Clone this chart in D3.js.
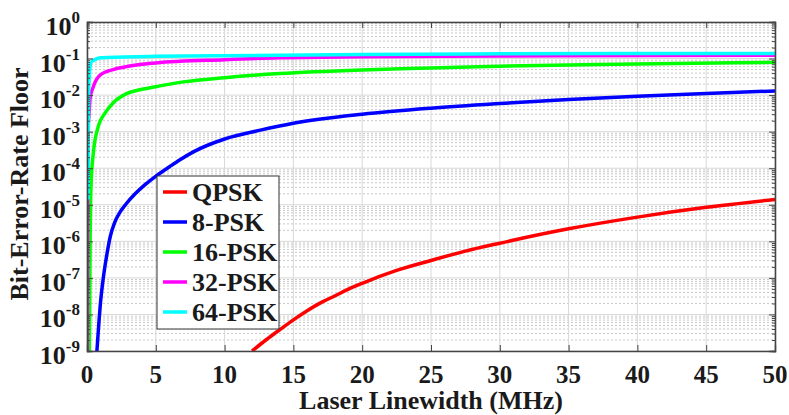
<!DOCTYPE html>
<html>
<head>
<meta charset="utf-8">
<script src="https://cdn.jsdelivr.net/npm/d3@7"></script>
<style>
  html, body { margin: 0; padding: 0; background: #fff; }
  svg { display: block; }
  text { font-family: "Liberation Serif", "Times New Roman", serif; font-weight: bold; fill: #1a1a1a; }
</style>
</head>
<body>
<svg id="chart" width="789" height="415"></svg>
<script>
// ---------- data ----------
const seriesNames = ["QPSK", "8-PSK", "16-PSK", "32-PSK", "64-PSK"];
const seriesColors = ["#ff0000", "#0000ff", "#00ff00", "#ff00ff", "#00ffff"];

const qpskX   = [12, 13, 14, 15, 16, 17, 18, 19, 20, 22.5, 25, 27.5, 30, 35, 40, 45, 50];
const qpskBer = [1.0e-9, 2.0e-9, 3.8e-9, 7.1e-9, 1.26e-8, 2.1e-8, 3.2e-8, 4.9e-8, 7.1e-8, 1.6e-7, 3.0e-7, 5.4e-7, 8.9e-7, 2.2e-6, 4.6e-6, 8.5e-6, 1.4e-5];

const psk8X   = [0.72, 0.85, 1.0, 1.2, 1.45, 1.7, 2.0, 2.4, 2.88, 3.5, 4.2, 5.06, 6.0, 6.76, 7.73, 10, 12.6, 15, 20, 25, 30, 35, 40, 45, 50];
const psk8Ber = [1.0e-9, 5.0e-9, 2.5e-8, 1.1e-7, 4.5e-7, 1.4e-6, 3.2e-6, 6.3e-6, 1.1e-5, 2.0e-5, 3.5e-5, 6.3e-5, 1.1e-4, 1.7e-4, 2.8e-4, 6.3e-4, 1.1e-3, 1.7e-3, 3.0e-3, 4.4e-3, 5.9e-3, 7.6e-3, 9.3e-3, 1.1e-2, 1.3e-2];

const psk16X   = [0.17, 0.2, 0.22, 0.29, 0.46, 0.82, 1.31, 1.91, 2.88, 3.85, 5, 7, 10, 14, 20, 25, 30, 40, 50];
const psk16Ber = [1.0e-9, 3.2e-8, 4.8e-7, 3.2e-5, 2.6e-4, 1.4e-3, 3.2e-3, 6.2e-3, 1.1e-2, 1.4e-2, 1.7e-2, 2.3e-2, 3.0e-2, 3.9e-2, 4.9e-2, 5.5e-2, 6.2e-2, 7.1e-2, 7.9e-2];

const psk32X   = [0.02, 0.04, 0.08, 0.15, 0.22, 0.46, 0.94, 1.91, 2.64, 3.85, 5, 10, 14, 20, 30, 50];
const psk32Ber = [1.0e-9, 1.0e-5, 1.0e-3, 3.2e-3, 7.9e-3, 1.7e-2, 3.5e-2, 5.0e-2, 5.8e-2, 6.9e-2, 7.6e-2, 9.3e-2, 1.05e-1, 1.12e-1, 1.17e-1, 1.23e-1];

const psk64X   = [0.08, 0.1, 0.12, 0.18, 0.3, 0.6, 1, 2.64, 5, 10, 20, 30, 50];
const psk64Ber = [1.4e-5, 1.0e-3, 1.0e-2, 4.0e-2, 7.9e-2, 9.5e-2, 1.05e-1, 1.1e-1, 1.15e-1, 1.2e-1, 1.29e-1, 1.35e-1, 1.38e-1];

const xTicks = [0, 5, 10, 15, 20, 25, 30, 35, 40, 45, 50];
const yTickExponents = [0, -1, -2, -3, -4, -5, -6, -7, -8, -9];

const xLabel = "Laser Linewidth (MHz)";
const yLabel = "Bit-Error-Rate Floor";

// ---------- layout ----------
const svg = d3.select("#chart");
const L = 87, R = 775, T = 22, B = 351;

const x = d3.scaleLinear().domain([0, 50]).range([L, R]);
const y = d3.scaleLog().domain([1e-9, 1]).range([B, T]);

const yMajor = yTickExponents.map(e => +("1e" + e));
const yMinor = [];
yTickExponents.slice(1).forEach(e => {
  for (let k = 2; k <= 9; k++) yMinor.push(+(k + "e" + e));
});

// ---------- grid ----------
const grid = svg.append("g");
grid.selectAll("line.ymin").data(yMinor).join("line")
  .attr("x1", L).attr("x2", R)
  .attr("y1", d => y(d)).attr("y2", d => y(d))
  .attr("stroke", "#c8c8c8").attr("stroke-width", 1)
  .attr("stroke-dasharray", "2,2");
grid.selectAll("line.ymaj").data(yMajor).join("line")
  .attr("x1", L).attr("x2", R)
  .attr("y1", d => y(d)).attr("y2", d => y(d))
  .attr("stroke", "#d8d8d8").attr("stroke-width", 1);
grid.selectAll("line.xmaj").data(xTicks).join("line")
  .attr("x1", d => x(d)).attr("x2", d => x(d))
  .attr("y1", T).attr("y2", B)
  .attr("stroke", "#d8d8d8").attr("stroke-width", 1);

// ---------- series ----------
const defs = svg.append("defs");
defs.append("clipPath").attr("id", "clip").append("rect")
  .attr("x", L).attr("y", T).attr("width", R - L).attr("height", B - T);

const series = [
  [qpskX, qpskBer], [psk8X, psk8Ber], [psk16X, psk16Ber], [psk32X, psk32Ber], [psk64X, psk64Ber]
];
const line = d3.line().x(d => x(d[0])).y(d => y(d[1])).curve(d3.curveMonotoneX);
const plot = svg.append("g").attr("clip-path", "url(#clip)");
series.forEach((s, i) => {
  const pts = s[0].map((v, j) => [v, s[1][j]]);
  plot.append("path").datum(pts)
    .attr("d", line)
    .attr("fill", "none")
    .attr("stroke", seriesColors[i])
    .attr("stroke-width", 3.5)
    .attr("stroke-linejoin", "round");
});

// ---------- axes ----------
const axisColor = "#444";
const xAxisB = svg.append("g").attr("transform", `translate(0,${B})`)
  .call(d3.axisBottom(x).tickValues(xTicks).tickSize(-6).tickFormat(""));
const xAxisT = svg.append("g").attr("transform", `translate(0,${T})`)
  .call(d3.axisTop(x).tickValues(xTicks).tickSize(-6).tickFormat(""));
const yAxisL = svg.append("g").attr("transform", `translate(${L},0)`)
  .call(d3.axisLeft(y).tickValues(yMajor).tickSize(-6).tickFormat(""));
const yAxisR = svg.append("g").attr("transform", `translate(${R},0)`)
  .call(d3.axisRight(y).tickValues(yMajor).tickSize(-6).tickFormat(""));
const yMinL = svg.append("g").attr("transform", `translate(${L},0)`)
  .call(d3.axisLeft(y).tickValues(yMinor).tickSize(-3).tickFormat(""));
const yMinR = svg.append("g").attr("transform", `translate(${R},0)`)
  .call(d3.axisRight(y).tickValues(yMinor).tickSize(-3).tickFormat(""));
[xAxisB, xAxisT, yAxisL, yAxisR, yMinL, yMinR].forEach(g => {
  g.selectAll("path").attr("stroke", axisColor).attr("stroke-width", 1.3);
  g.selectAll("line").attr("stroke", axisColor).attr("stroke-width", 1);
});

// x tick labels
svg.append("g").selectAll("text").data(xTicks).join("text")
  .attr("x", d => x(d)).attr("y", 383)
  .attr("text-anchor", "middle")
  .attr("font-size", 25)
  .text(d => d);

// y tick labels: 10^e
const yl = svg.append("g").selectAll("text").data(yTickExponents).join("text")
  .attr("x", 80).attr("y", d => y(+("1e" + d)) + 13)
  .attr("text-anchor", "end")
  .attr("font-size", 26);
yl.append("tspan").text("10");
yl.append("tspan").attr("font-size", 17).attr("dy", -12).text(d => d === 0 ? "0" : "-" + Math.abs(d));

// axis titles
svg.append("text")
  .attr("x", (L + R) / 2).attr("y", 409)
  .attr("text-anchor", "middle")
  .attr("font-size", 26)
  .text(xLabel);
svg.append("text")
  .attr("transform", `translate(28,184) rotate(-90)`)
  .attr("text-anchor", "middle")
  .attr("font-size", 26)
  .text(yLabel);

// ---------- legend ----------
const lg = svg.append("g");
lg.append("rect").attr("x", 157).attr("y", 176).attr("width", 122).attr("height", 153)
  .attr("fill", "#fff").attr("stroke", "#333").attr("stroke-width", 1);
seriesNames.forEach((n, i) => {
  const cy = 192 + i * 30;
  lg.append("line").attr("x1", 163).attr("x2", 187).attr("y1", cy).attr("y2", cy)
    .attr("stroke", seriesColors[i]).attr("stroke-width", 3.5);
  lg.append("text").attr("x", 192).attr("y", cy + 9)
    .attr("font-size", 26).text(n);
});
</script>
</body>
</html>
